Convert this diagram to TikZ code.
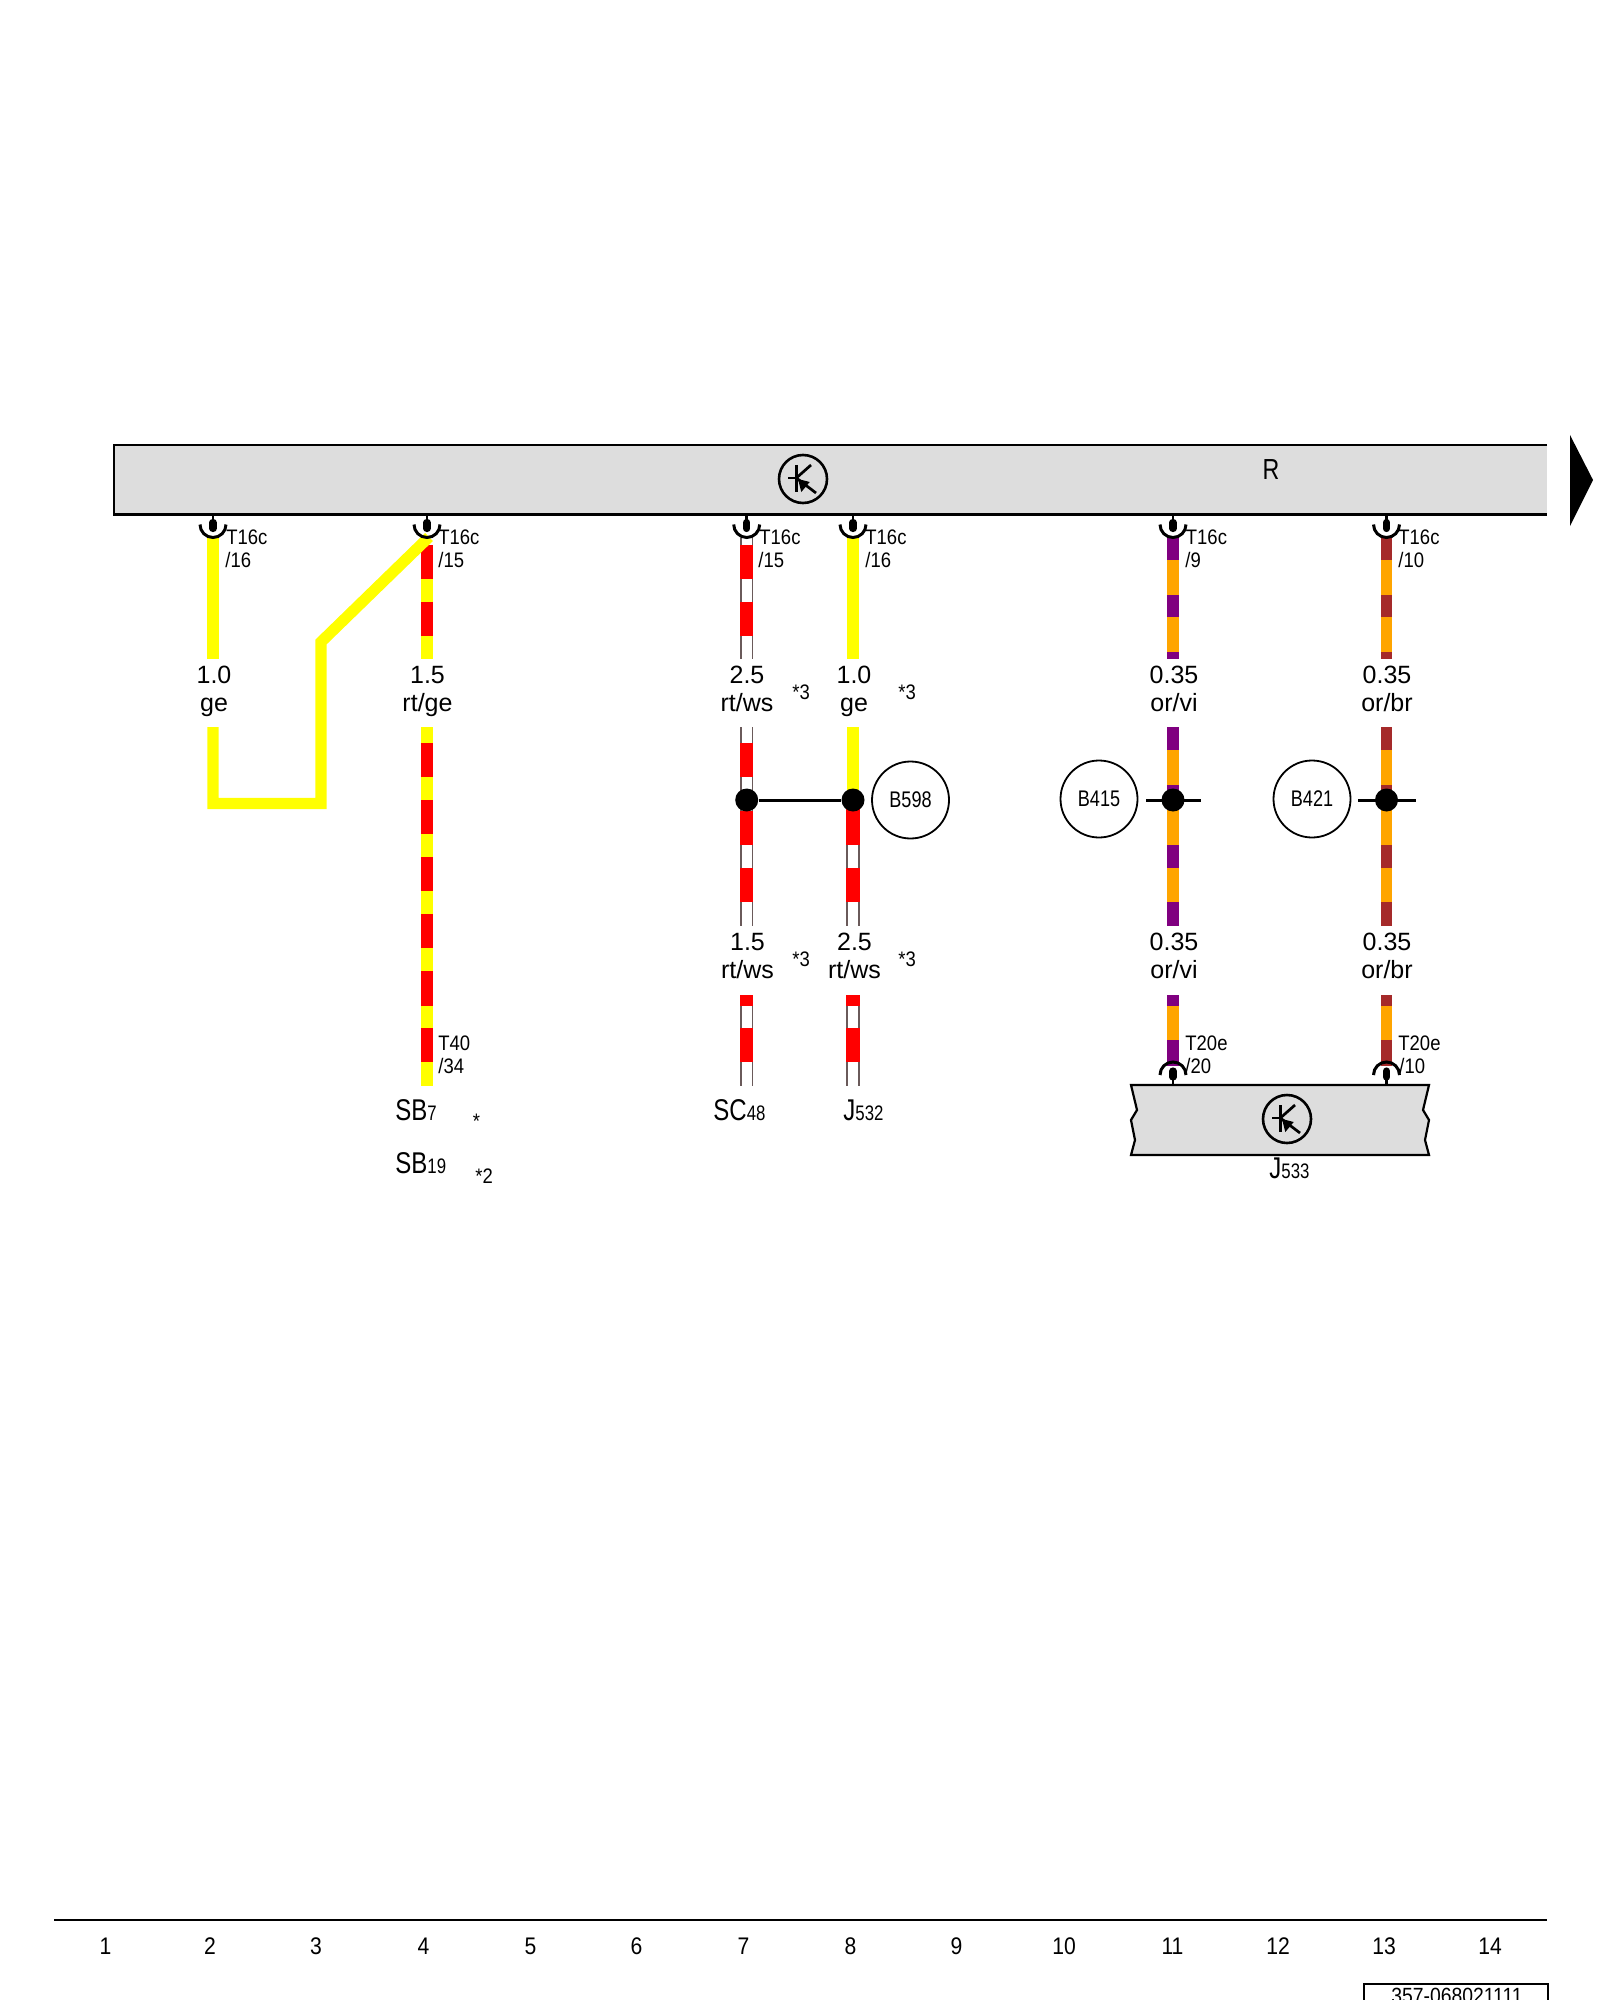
\documentclass[tikz,border=0pt]{standalone}
\usepackage{fontspec}
\setmainfont{Liberation Sans}
\newfontfamily\narrow[FakeStretch=0.8]{Liberation Sans}
\newfontfamily\tagfont[FakeStretch=0.88]{Liberation Sans}
\definecolor{busgray}{HTML}{DDDDDD}
\definecolor{wireyellow}{HTML}{FFFF00}
\definecolor{wirered}{HTML}{FF0000}
\definecolor{wireorange}{HTML}{FFA500}
\definecolor{wirepurple}{HTML}{800080}
\definecolor{wirebrown}{HTML}{A52A2A}
\definecolor{wireedge}{HTML}{6A5A5A}
\tikzset{
  wire/.style={line width=5.6pt},
  ringwire/.style={line width=6.6pt},
  size/.style={font=\fontsize{12.5}{14}\selectfont,anchor=base,inner sep=0pt},
  tag/.style={font=\tagfont\fontsize{10.5}{12}\selectfont,anchor=base west,inner sep=0pt},
  dot/.style={circle,fill=black,inner sep=0pt,minimum size=11.5pt},
  part/.style={circle,draw,line width=0.9pt,inner sep=0pt,minimum size=38.5pt,font=\narrow\fontsize{11.3}{12}\selectfont},
  pinup/.pic={
    \draw[line width=1.3pt] (0,0) -- (0,8);
    \draw[line width=3.6pt,line cap=round] (0,8) -- (0,14);
    \draw[line width=1.5pt] (-13,10) arc (180:0:13);
  },
  pindown/.pic={
    \draw[line width=1.3pt] (0,0) -- (0,-8);
    \draw[line width=3.6pt,line cap=round] (0,-8) -- (0,-14);
    \draw[line width=1.5pt] (-13,-10) arc (180:360:13);
  },
  transistor/.pic={
    \draw[line width=1.3pt] (0,0) circle (24);
    \draw[line width=1.35pt] (-15,-1) -- (-6.7,-1);
    \draw[line width=1.35pt] (-6.7,-14) -- (-6.7,13);
    \draw[line width=1.35pt] (-6.7,-1) -- (8,-14);
    \draw[line width=1.35pt] (-6.7,-1) -- (13,14);
    \fill (-5,0) -- (6.7,3) -- (-1.7,13) -- cycle;
  },
}
% wire piece on a plain colour
\newcommand{\stripewire}[5]{
  \draw[wire,#3] (#1) -- (#2);
  \foreach \a/\b in {#5} \draw[wire,#4] (#1 |- 0,\a) -- (#1 |- 0,\b);
}
% white wire piece with thin edge and red rings
\newcommand{\whitewire}[3]{
  \draw[ringwire,wireedge] (#1) -- (#2);
  \draw[line width=5.2pt,white] (#1) -- (#2);
  \foreach \a/\b in {#3} \draw[ringwire,wirered] (#1 |- 0,\a) -- (#1 |- 0,\b);
}
\newcommand{\bigsmall}[2]{{\narrow\fontsize{15}{16}\selectfont #1\fontsize{10.5}{12}\selectfont #2}}
\begin{document}
\begin{tikzpicture}[x=0.5pt,y=-0.5pt]
  \clip (0,0) rectangle (1600,2000);
  \fill[white] (0,0) rectangle (1600,2000);
  % bus bar
  \coordinate (bar1) at (114,445);
  \coordinate (bar2) at (1547,514.5);
  \fill[busgray] (bar1) rectangle (bar2);
  \draw[line width=1.1pt] (bar2 |- bar1) -- (bar1) -- (bar1 |- bar2) -- (bar2);
  \fill (1570,435) -- (1593,480) -- (1570,526) -- cycle;
  \pic at (803,479) {transistor};
  \node[font=\narrow\fontsize{14.5}{16}\selectfont,anchor=base,inner sep=0pt] (bus) at (1271,480) {R};
  % wire ends
  \coordinate (a1) at (213,538);
  \coordinate (a2) at (213,659);
  \coordinate (a3) at (213,727);
  \coordinate (a4) at (213,803.5);
  \coordinate (a5) at (321,803.5);
  \coordinate (a6) at (321,642);
  \coordinate (a7) at (429,537);
  \coordinate (b1) at (427,545);
  \coordinate (b2) at (427,659);
  \coordinate (b3) at (427,727);
  \coordinate (b4) at (427,1086);
  \coordinate (c1) at (746.7,538);
  \coordinate (c2) at (746.7,659);
  \coordinate (c3) at (746.7,727);
  \coordinate (c4) at (746.7,926);
  \coordinate (c5) at (746.7,995);
  \coordinate (c6) at (746.7,1086);
  \coordinate (d1) at (853,538);
  \coordinate (d2) at (853,659);
  \coordinate (d3) at (853,727);
  \coordinate (d4) at (853,800);
  \coordinate (d5) at (853,926);
  \coordinate (d6) at (853,995);
  \coordinate (d7) at (853,1086);
  \coordinate (e1) at (1173,538);
  \coordinate (e2) at (1173,659);
  \coordinate (e3) at (1173,727);
  \coordinate (e4) at (1173,926);
  \coordinate (e5) at (1173,995);
  \coordinate (e6) at (1173,1066);
  \coordinate (f1) at (1386.5,538);
  \coordinate (f2) at (1386.5,659);
  \coordinate (f3) at (1386.5,727);
  \coordinate (f4) at (1386.5,926);
  \coordinate (f5) at (1386.5,995);
  \coordinate (f6) at (1386.5,1066);
  % wires
  \draw[wire,wireyellow] (a1) -- (a2);
  \stripewire{b1}{b2}{wireyellow}{wirered}{545/579,602/636}
  \stripewire{b3}{b4}{wireyellow}{wirered}{743/777,800/834,857/891,914/948,971/1006,1028/1062}
  \draw[wire,wireyellow,miter limit=10] (a3) -- (a4) -- (a5) -- (a6) -- (a7);
  \whitewire{c1}{c2}{545/579,602/636}
  \whitewire{c3}{c4}{743/777,811/845,868/902}
  \whitewire{c5}{c6}{995/1006,1028/1062}
  \draw[wire,wireyellow] (d1) -- (d2);
  \draw[wire,wireyellow] (d3) -- (d4);
  \whitewire{d4}{d5}{800/845,868/902}
  \whitewire{d6}{d7}{995/1006,1028/1062}
  \stripewire{e1}{e2}{wireorange}{wirepurple}{538/560,595/617,652/659}
  \stripewire{e3}{e4}{wireorange}{wirepurple}{727/750,785/810,845/868,902/926}
  \stripewire{e5}{e6}{wireorange}{wirepurple}{995/1006,1040/1066}
  \stripewire{f1}{f2}{wireorange}{wirebrown}{538/560,595/617,652/659}
  \stripewire{f3}{f4}{wireorange}{wirebrown}{727/750,785/810,845/868,902/926}
  \stripewire{f5}{f6}{wireorange}{wirebrown}{995/1006,1040/1066}
  % pins on the bus
  \foreach \xp in {213,427,746.7,853,1173,1386.5}
    \pic at (\xp,514.5) {pinup};
  % junctions
  \node[dot] (j1) at (746.7,800) {};
  \node[dot] (j2) at (853,800) {};
  \node[dot] (j3) at (1173,800) {};
  \node[dot] (j4) at (1386.5,800) {};
  \draw[line width=1.5pt] (j1) -- (j2);
  \coordinate (s1) at (1146,800);
  \coordinate (s2) at (1201,800);
  \coordinate (s3) at (1358,800);
  \coordinate (s4) at (1416,800);
  \draw[line width=1.5pt] (s1) -- (s2);
  \draw[line width=1.5pt] (s3) -- (s4);
  \node[part] (b598) at (910.5,800) {B598};
  \node[part] (b415) at (1099,799) {B415};
  \node[part] (b421) at (1312,799) {B421};
  % wire labels
  \foreach \nm/\xw/\up/\dn in {1/214/1.0/ge,2/427.5/1.5/rt\slash ge,3/747/2.5/rt\slash ws,4/854/1.0/ge,5/1174/0.35/or\slash vi,6/1387/0.35/or\slash br}{
    \node[size] (up\nm) at (\xw,683) {\up};
    \node[size] (dn\nm) at (\xw,711) {\dn};
  }
  \foreach \nm/\xw/\up/\dn in {7/747.5/1.5/rt\slash ws,8/854.5/2.5/rt\slash ws,9/1174/0.35/or\slash vi,10/1387/0.35/or\slash br}{
    \node[size] (up\nm) at (\xw,950) {\up};
    \node[size] (dn\nm) at (\xw,978) {\dn};
  }
  \node[tag] (n1) at (792,699) {*3};
  \node[tag] (n2) at (898,699) {*3};
  \node[tag] (n3) at (792,966) {*3};
  \node[tag] (n4) at (898,966) {*3};
  % pin tags
  \foreach \nm/\xt/\xs/\pn in {1/226/225/16,2/438/438/15,3/759/758/15,4/865/865/16,5/1185.5/1185/9,6/1398/1398/10}{
    \node[tag] (pa\nm) at (\xt,544.5) {T16c};
    \node[tag] (pb\nm) at (\xs,567.5) {/\pn};
  }
  \node[tag] (t40) at (438,1050.5) {T40};
  \node[tag] (t34) at (438,1073.5) {/34};
  \node[tag] (t20a) at (1185,1050.5) {T20e};
  \node[tag] (t20b) at (1185,1073.5) {/20};
  \node[tag] (t10a) at (1398,1050.5) {T20e};
  \node[tag] (t10b) at (1399,1073.5) {/10};
  % control unit
  \fill[busgray,draw=black,line width=1.1pt] (1131,1085) -- (1429,1085) -- (1423,1110) -- (1429,1120) -- (1425,1140) -- (1429,1155)
    -- (1131,1155) -- (1135,1140) -- (1131,1120) -- (1137,1110) -- cycle;
  \pic at (1287,1119) {transistor};
  \pic at (1173,1085) {pindown};
  \pic at (1386.5,1085) {pindown};
  % part names
  \node[tag] (sb7) at (395,1120) {\bigsmall{SB}{7}};
  \node[tag] (star1) at (472.5,1128) {*};
  \node[tag] (sb19) at (395,1173) {\bigsmall{SB}{19}};
  \node[tag] (star2) at (475,1183) {*2};
  \node[tag] (sc48) at (713,1120) {\bigsmall{SC}{48}};
  \node[tag] (j532) at (843,1120) {\bigsmall{J}{532}};
  \node[tag] (j533) at (1269,1178) {\bigsmall{J}{533}};
  % page foot
  \coordinate (foot1) at (54,1920);
  \coordinate (foot2) at (1547,1920);
  \draw[line width=1.1pt] (foot1) -- (foot2);
  \foreach \n/\xf in {1/105.5,2/210,3/316,4/423.5,5/530.5,6/636.5,7/743.5,8/850.5,9/956.5,10/1064,11/1172.5,12/1278,13/1384,14/1490}
    \node[font=\tagfont\fontsize{12}{14}\selectfont,anchor=base,inner sep=0pt] (col\n) at (\xf,1954) {\n};
  \draw[line width=1.1pt] (1364,2012) -- (1364,1984) -- (1548,1984) -- (1548,2012);
  \node[font=\tagfont\fontsize{11}{12}\selectfont,anchor=base,inner sep=0pt] (code) at (1457,2003) {357-068021111};
\end{tikzpicture}
\end{document}
